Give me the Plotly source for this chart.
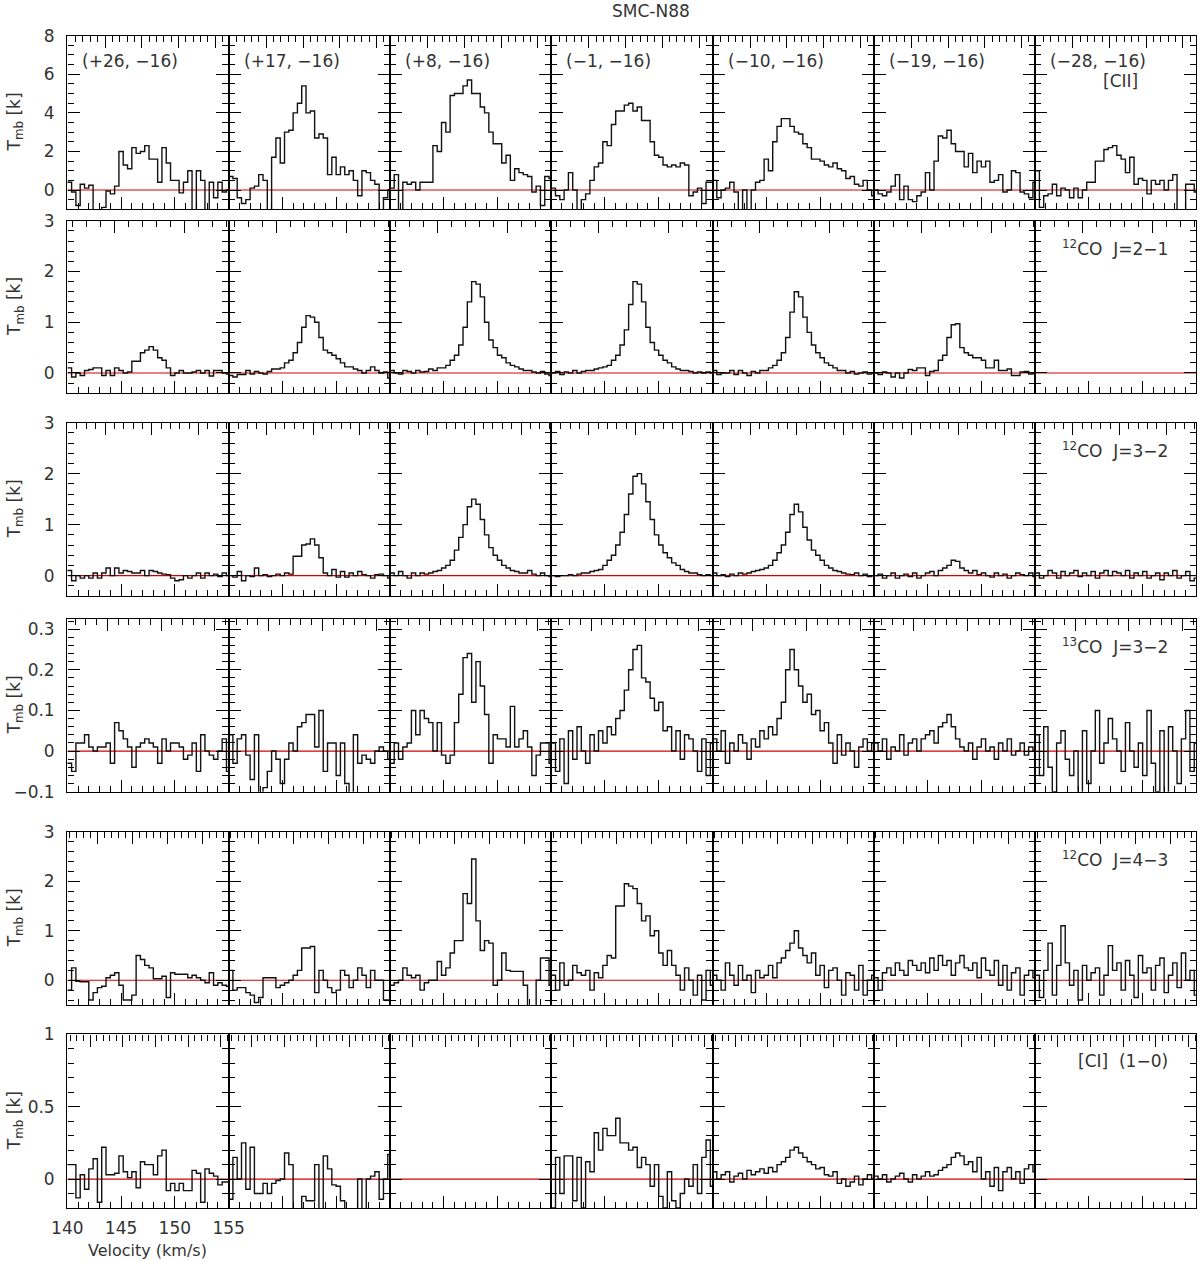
import plotly.graph_objects as go

# ---------------- data ----------------
V_MIN, V_MAX = 140.0, 155.0
CHAN_W = 0.4
X_TICK0, X_DTICK, X_MINOR = 140, 5, 1

OFFSETS = ["(+26, −16)", "(+17, −16)", "(+8, −16)", "(−1, −16)",
           "(−10, −16)", "(−19, −16)", "(−28, −16)"]
LINES = ["[CII]", "<sup>12</sup>CO  J=2−1", "<sup>12</sup>CO  J=3−2",
         "<sup>13</sup>CO  J=3−2", "<sup>12</sup>CO  J=4−3", "[CI]  (1−0)"]
Y_RANGES = [[-1, 8], [-0.4, 3], [-0.4, 3], [-0.1, 0.325], [-0.5, 3], [-0.2, 1]]
Y_MAJOR = [2, 1, 1, 0.1, 1, 0.5]
Y_MINOR = [0.5, 0.2, 0.2, 0.02, 0.2, 0.1]

cii_p26 = [0.4,-0.1,-0.8,0.3,0.1,0.25,-1.2,-1.2,-0.9,-0.05,-0.2,0.2,2.0,1.3,1.1,2.2,1.9,2.0,2.3,1.6,1.6,0.4,2.2,1.4,0.5,0.5,-0.15,0.4,1.0,-1.2,1.0,0.5,-1.2,0.4,-0.4,0.4,-0.1,0.0]
cii_p17 = [0.7,0.6,-0.4,-0.7,-0.5,0.1,0.2,0.8,0.5,-1.2,1.7,2.7,1.4,3.0,3.1,4.0,4.5,5.4,4.0,4.1,2.7,2.9,2.7,0.8,1.7,0.8,1.2,0.8,1.0,0.5,-0.3,1.0,0.9,0.5,0.3,-1.2,-0.4,0.0]
cii_p8 = [0.1,0.8,-1.2,0.4,0.3,0.4,0.0,0.4,0.4,0.4,2.3,2.0,3.5,3.0,4.9,5.0,5.0,5.4,5.7,5.0,5.0,4.3,4.0,3.0,2.4,2.4,1.4,1.8,0.5,1.1,0.9,0.8,0.7,-0.1,0.2,-0.8,0.7,0.6]
cii_m1 = [0.1,-0.3,-0.5,0.0,0.9,0.0,-1.2,-0.5,-0.2,0.5,1.2,1.4,2.5,2.3,3.4,4.1,4.1,4.4,4.5,4.1,4.3,3.6,3.6,2.5,1.8,1.7,1.3,1.2,1.3,1.2,1.4,1.3,-0.3,-0.1,0.1,-0.7,0.4,0.4]
cii_m10 = [0.5,-0.4,0.0,0.1,0.4,-0.1,-1.2,0.0,-1.2,0.0,0.4,0.5,1.6,1.0,2.5,3.3,3.7,3.7,3.3,3.0,2.9,2.4,2.2,1.6,1.6,1.5,1.3,1.2,1.4,1.1,1.0,0.6,0.7,0.3,0.2,0.5,0.0,-0.3]
cii_m19 = [0.0,-0.2,-0.3,-0.1,0.2,0.8,-0.5,0.2,-0.5,-0.6,-0.3,-0.1,0.9,0.0,1.5,2.8,2.7,3.1,2.4,2.0,2.0,1.2,1.9,0.9,1.5,1.2,1.5,0.4,0.5,0.8,-0.1,0.0,1.0,0.9,-0.1,-0.2,-0.4,0.4]
cii_m28 = [1.0,-0.9,-0.3,-0.2,0.3,-0.3,0.1,0.0,-0.4,0.1,-0.4,0.0,0.4,0.4,1.5,1.5,2.1,2.2,2.3,1.8,1.6,0.9,1.7,0.3,0.6,0.5,-0.2,0.5,0.3,0.5,0.0,0.5,0.8,-1.2,-1.2,0.3,0.3,-0.1]

co21_p26 = [0.1,-0.08,0.0,-0.05,0.05,0.07,0.1,0.1,-0.05,0.05,-0.05,0.1,0.05,0.0,0.02,0.23,0.23,0.4,0.45,0.52,0.45,0.3,0.25,0.1,-0.05,0.0,0.05,0.0,0.0,0.02,0.05,0.0,0.05,-0.06,0.05,0.05,0.0,-0.02]
co21_p17 = [-0.05,-0.08,-0.03,-0.03,0.05,-0.02,0.03,0.0,-0.02,0.03,0.08,0.08,0.1,0.2,0.25,0.4,0.6,0.9,1.13,1.1,1.0,0.7,0.45,0.4,0.35,0.28,0.2,0.12,0.12,0.08,0.05,0.0,0.05,0.12,0.05,0.0,0.02,-0.1]
co21_p8 = [0.05,0.0,-0.02,0.05,0.03,0.0,0.05,0.02,0.03,0.08,0.05,0.1,0.1,0.15,0.25,0.35,0.55,0.9,1.4,1.8,1.75,1.5,1.0,0.65,0.5,0.35,0.3,0.2,0.15,0.12,0.08,0.05,0.05,0.02,0.0,0.03,-0.02,-0.05]
co21_m1 = [0.0,0.03,-0.03,0.02,0.0,0.05,0.0,0.03,0.05,0.05,0.08,0.1,0.12,0.15,0.25,0.35,0.55,0.85,1.35,1.8,1.75,1.4,0.9,0.6,0.45,0.35,0.25,0.2,0.12,0.08,0.05,0.05,0.03,0.0,0.02,0.0,0.02,0.0]
co21_m10 = [0.05,-0.03,0.0,0.0,0.05,-0.03,0.05,0.0,-0.05,0.03,0.0,0.05,0.05,0.1,0.15,0.25,0.4,0.7,1.2,1.6,1.5,1.1,0.8,0.55,0.4,0.3,0.2,0.15,0.1,0.05,0.05,0.0,0.03,-0.02,0.0,0.02,-0.02,0.0]
co21_m19 = [0.0,-0.03,0.02,0.0,-0.08,0.0,-0.1,0.0,0.07,0.05,0.1,0.1,-0.05,0.03,0.05,0.25,0.35,0.7,0.95,0.97,0.5,0.4,0.35,0.3,0.3,0.25,0.1,0.1,0.25,0.05,0.05,0.08,-0.05,-0.05,0.02,0.03,-0.02,0.0]
co21_m28 = None

co32_p26 = [0.1,-0.1,0.0,-0.05,0.0,-0.05,0.05,-0.05,0.05,0.15,0.0,0.15,0.05,0.1,0.08,0.05,0.05,0.1,0.0,0.1,0.08,0.05,0.03,0.02,-0.05,-0.1,-0.08,0.0,-0.05,0.0,0.05,-0.05,0.05,0.0,0.03,-0.02,0.05,0.0]
co32_p17 = [0.0,-0.03,0.08,-0.1,0.0,-0.02,0.15,0.0,0.02,-0.02,0.0,0.03,0.0,0.05,0.03,0.38,0.38,0.6,0.62,0.72,0.6,0.35,0.05,0.0,0.12,-0.03,0.08,-0.03,0.05,0.0,0.08,0.02,0.0,-0.05,0.02,0.03,0.0,-0.05]
co32_p8 = [0.05,0.0,0.08,0.0,-0.05,0.05,0.0,0.05,0.03,0.05,0.08,0.1,0.15,0.2,0.3,0.5,0.75,1.0,1.35,1.5,1.4,1.1,0.8,0.55,0.4,0.3,0.2,0.15,0.1,0.08,0.05,0.05,0.1,0.03,0.0,0.05,0.0,-0.02]
co32_m1 = [0.0,-0.02,0.0,0.0,0.02,0.0,0.03,0.05,0.05,0.08,0.1,0.12,0.2,0.3,0.4,0.6,0.85,1.2,1.6,1.95,2.0,1.8,1.45,1.1,0.8,0.6,0.45,0.35,0.25,0.2,0.12,0.08,0.05,0.05,0.02,0.0,0.02,0.0]
co32_m10 = [0.05,0.0,0.02,-0.02,0.03,0.0,0.05,0.03,0.05,0.08,0.1,0.12,0.15,0.2,0.3,0.45,0.6,0.85,1.2,1.4,1.25,0.95,0.7,0.5,0.4,0.3,0.2,0.15,0.1,0.08,0.05,0.03,0.02,0.05,0.0,0.03,-0.02,0.0]
co32_m19 = [0.0,0.03,-0.05,0.0,0.05,-0.05,0.0,0.03,-0.02,0.05,-0.05,0.0,0.05,0.08,0.0,0.1,0.15,0.2,0.3,0.28,0.15,0.1,0.05,0.1,0.02,0.05,0.0,-0.03,0.05,0.0,0.03,-0.05,0.0,0.05,0.02,0.0,0.05,-0.02]
co32_m28 = [0.05,-0.05,0.0,0.1,0.05,-0.05,0.08,0.0,0.05,0.1,-0.02,0.05,0.0,0.08,-0.05,0.05,0.1,0.0,0.08,0.05,0.0,0.1,-0.05,0.05,0.0,0.08,-0.05,0.0,0.05,-0.08,0.05,0.0,0.1,-0.05,0.0,0.08,-0.1,-0.05]

c13o32_p26 = [-0.03,-0.05,0.02,0.02,0.04,0.01,0.0,0.01,0.01,0.02,-0.03,0.07,0.05,0.03,0.01,-0.04,0.01,0.02,0.03,0.02,0.01,-0.03,0.03,0.0,0.02,0.02,0.01,-0.02,-0.01,0.02,-0.05,0.04,0.0,-0.01,-0.02,0.0,0.03,-0.05]
c13o32_p17 = [0.04,-0.03,0.03,0.04,-0.01,-0.07,0.04,-0.12,-0.09,-0.05,0.0,-0.02,-0.08,-0.02,0.02,0.0,0.06,0.07,0.09,0.09,0.01,0.1,-0.05,0.02,0.02,-0.06,0.02,-0.08,-0.12,0.04,-0.03,-0.01,-0.02,-0.03,0.0,0.01,0.0,-0.02]
c13o32_p8 = [-0.03,0.02,-0.02,0.01,0.02,0.1,0.04,0.1,0.08,0.07,0.0,0.07,-0.01,-0.03,-0.01,0.07,0.14,0.23,0.24,0.12,0.22,0.16,0.09,-0.03,0.04,0.03,0.03,0.01,0.11,0.01,0.03,0.05,0.01,-0.06,-0.01,0.02,0.02,-0.03]
c13o32_m1 = [0.02,-0.05,0.03,-0.08,0.05,-0.02,0.06,0.0,-0.03,0.04,0.0,0.05,0.02,0.06,0.04,0.08,0.1,0.15,0.2,0.25,0.26,0.18,0.17,0.13,0.1,0.12,0.05,0.06,0.0,0.05,-0.02,0.04,0.03,0.0,-0.05,0.03,-0.06,0.02]
c13o32_m10 = [0.03,0.0,0.05,-0.03,0.02,0.0,0.04,0.02,-0.02,0.03,0.01,0.05,0.03,0.06,0.04,0.08,0.12,0.2,0.25,0.2,0.16,0.12,0.14,0.09,0.1,0.05,0.07,0.02,-0.03,0.04,-0.01,0.02,0.0,-0.04,0.01,0.03,0.0,0.02]
c13o32_m19 = [0.02,0.0,0.03,-0.02,0.01,0.0,0.04,-0.01,0.02,0.03,0.0,0.03,0.04,0.05,0.02,0.06,0.07,0.09,0.06,0.03,0.01,0.0,0.02,-0.02,0.01,0.03,0.0,0.01,-0.02,0.02,0.0,0.03,-0.01,0.0,0.02,-0.01,0.01,0.0]
c13o32_m28 = [0.04,-0.06,0.06,-0.04,-0.1,0.02,0.05,-0.02,-0.06,0.0,-0.12,0.05,-0.08,0.0,0.1,-0.03,0.02,0.08,0.03,0.0,-0.05,0.07,0.0,-0.04,0.02,-0.06,0.1,-0.03,-0.1,0.05,-0.12,0.06,0.0,-0.08,0.03,0.1,-0.05,0.02]

co43_p26 = [-0.2,0.25,-0.02,-0.03,-0.03,-0.4,-0.25,-0.15,-0.12,0.05,0.1,0.15,-0.1,-0.4,-0.4,-0.3,0.5,0.42,0.3,0.25,0.03,0.03,0.08,-0.35,0.15,0.12,0.12,0.12,0.05,0.1,0.05,0.0,-0.05,0.15,-0.1,-0.05,-0.1,-0.12]
co43_p17 = [0.2,-0.2,-0.15,-0.15,-0.25,-0.3,-0.45,-0.35,0.05,0.05,0.05,-0.15,-0.1,-0.05,0.0,0.1,0.2,0.65,0.65,0.68,-0.25,0.2,0.0,-0.15,-0.25,-0.2,0.2,0.1,-0.15,0.0,0.25,0.1,-0.15,0.2,0.0,0.0,-0.4,-0.4]
co43_p8 = [-0.1,-0.05,0.0,0.25,0.1,0.05,0.1,-0.2,-0.05,0.0,0.0,0.38,0.1,0.25,0.55,0.8,0.8,1.75,1.55,2.45,1.2,0.6,0.8,0.75,-0.1,0.0,0.55,0.2,0.18,0.18,0.18,-0.1,-0.6,-0.6,0.0,0.45,0.45,-0.1]
co43_m1 = [0.1,-0.2,0.35,-0.1,0.0,0.3,0.15,0.1,0.2,-0.2,0.15,0.05,0.3,0.5,0.45,1.5,1.5,1.95,1.9,1.85,1.55,1.2,1.3,0.9,1.0,0.55,0.3,0.6,0.3,0.1,-0.2,0.25,0.0,-0.3,0.1,-0.4,0.2,-0.1]
co43_m10 = [0.1,0.0,-0.2,0.35,0.1,-0.1,0.3,0.0,0.1,-0.25,0.2,0.05,0.1,0.3,0.05,0.35,0.45,0.6,0.75,1.0,0.65,0.5,0.35,0.55,0.1,0.3,-0.15,0.2,0.25,0.0,-0.3,0.15,0.1,-0.2,0.3,-0.3,0.0,0.1]
co43_m19 = [0.05,-0.2,0.15,0.25,0.1,0.35,0.2,0.1,0.4,0.3,0.2,0.35,0.15,0.45,0.2,0.5,0.3,0.4,0.1,0.35,0.5,0.25,0.2,0.35,0.05,0.45,0.2,0.1,0.4,-0.1,0.3,-0.2,0.15,0.25,-0.3,0.1,0.2,0.05]
co43_m28 = [0.1,-0.35,0.2,0.75,-0.3,0.3,1.1,0.35,-0.1,0.2,-0.4,0.3,0.0,0.15,0.25,-0.3,0.1,0.7,0.2,0.35,-0.2,0.4,0.1,-0.35,0.5,0.15,0.25,-0.2,0.3,0.45,-0.25,0.1,0.35,-0.15,0.55,0.0,0.2,-0.3]

ci_p26 = [0.1,0.1,-0.13,0.03,-0.07,0.07,0.14,-0.16,0.22,0.03,0.03,0.04,0.16,0.05,0.01,0.05,-0.06,0.12,0.1,0.1,0.03,0.16,0.2,-0.08,-0.03,-0.08,-0.03,-0.08,-0.08,0.06,0.04,-0.16,0.07,0.04,0.02,-0.04,-0.02,-0.02]
ci_p17 = [-0.14,0.15,0.0,0.25,-0.07,0.22,-0.1,-0.1,-0.03,-0.1,-0.03,-0.01,0.0,0.18,0.1,-0.25,-0.25,-0.12,-0.15,-0.15,0.1,-0.25,0.16,0.07,-0.04,-0.05,-0.15,-0.25,-0.25,-0.25,0.0,-0.25,0.0,0.02,0.05,-0.14,0.0,0.17]
ci_p8 = None
ci_m1 = [-0.2,0.15,-0.1,0.16,0.16,-0.15,0.15,-0.2,0.12,0.05,0.32,0.2,0.35,0.3,0.3,0.42,0.25,0.25,0.2,0.22,0.08,0.15,0.1,-0.05,0.1,-0.12,-0.2,0.05,-0.15,-0.2,-0.1,0.0,-0.05,0.1,-0.1,0.15,0.27,-0.05]
ci_m10 = [0.05,0.0,0.03,0.05,-0.02,0.02,0.04,0.0,0.06,0.03,0.05,0.07,0.04,0.08,0.05,0.1,0.12,0.15,0.2,0.22,0.18,0.15,0.12,0.1,0.07,0.08,0.03,0.02,0.05,-0.03,0.0,-0.05,-0.02,0.02,-0.04,0.0,0.03,0.0]
ci_m19 = [0.02,0.0,0.03,-0.02,0.0,0.02,0.04,0.0,-0.02,0.03,0.0,0.02,0.05,0.02,0.03,0.06,0.08,0.1,0.15,0.18,0.16,0.1,0.12,0.05,0.15,0.0,0.05,-0.05,0.08,-0.08,0.05,0.08,0.0,0.05,-0.03,0.07,0.1,0.05]
ci_m28 = None

ROWS = [
    [cii_p26, cii_p17, cii_p8, cii_m1, cii_m10, cii_m19, cii_m28],
    [co21_p26, co21_p17, co21_p8, co21_m1, co21_m10, co21_m19, co21_m28],
    [co32_p26, co32_p17, co32_p8, co32_m1, co32_m10, co32_m19, co32_m28],
    [c13o32_p26, c13o32_p17, c13o32_p8, c13o32_m1, c13o32_m10, c13o32_m19, c13o32_m28],
    [co43_p26, co43_p17, co43_p8, co43_m1, co43_m10, co43_m19, co43_m28],
    [ci_p26, ci_p17, ci_p8, ci_m1, ci_m10, ci_m19, ci_m28],
]

# ---------------- geometry / style (pixels) ----------------
W, H = 1200, 1261
LEFT = 67.3
COL_W = 161.3
ROW_TOP = [35.7, 220.7, 422.7, 619.0, 831.7, 1034.3]
ROW_BOT = [209.3, 393.3, 596.0, 791.7, 1005.0, 1208.0]
TOP_SPACING = [36.7, 70.0, 46.7, 53.8, 35.0, 32.7]   # px between long top ticks
TOP_PHASE = [37.7, 47.4, 37.7, 40.0, 30.0, 22.7]     # px from panel left to first long tick

FONT = "DejaVu Sans"
TXT = "#333333"
TICKFONT = dict(family=FONT, size=17, color=TXT)


def px_x(p):
    return p / W


def px_y(p):
    return 1 - p / H


def ref(prefix, i):
    return prefix if i == 1 else f"{prefix}{i}"


def key(prefix, i):
    return f"{prefix}axis" if i == 1 else f"{prefix}axis{i}"


fig = go.Figure()
layout = {}
annotations = []
NP = 42

for r in range(6):
    for c in range(7):
        i = r * 7 + c + 1
        xr, yr = ref("x", i), ref("y", i)
        xt = ref("x", NP + i)
        x0 = LEFT + c * COL_W
        x1 = x0 + COL_W
        dom_x = [px_x(x0), px_x(x1)]
        dom_y = [px_y(ROW_BOT[r]), px_y(ROW_TOP[r])]

        tickcommon = dict(ticks="inside", tickcolor="black", tickwidth=1.3,
                          ticklen=12, showgrid=False, zeroline=False,
                          showline=True, linecolor="black", linewidth=1.4,
                          tickfont=TICKFONT, automargin=False)

        layout[key("x", i)] = dict(
            domain=dom_x, range=[V_MIN, V_MAX], anchor=yr,
            tickmode="linear", tick0=X_TICK0, dtick=X_DTICK,
            minor=dict(ticks="inside", ticklen=6, tickwidth=1.3,
                       tickcolor="black", dtick=X_MINOR, tick0=X_TICK0),
            showticklabels=(r == 5 and c == 0), ticklabelstandoff=4,
            **tickcommon)

        sp, ph = TOP_SPACING[r], TOP_PHASE[r]
        layout[key("x", NP + i)] = dict(
            overlaying=xr, side="top", anchor=yr,
            range=[-ph / sp, (COL_W - ph) / sp],
            tickmode="linear", tick0=0, dtick=1,
            minor=dict(ticks="inside", ticklen=6, tickwidth=1.3,
                       tickcolor="black", dtick=0.2, tick0=0),
            showticklabels=False, **tickcommon)

        layout[key("y", i)] = dict(
            domain=dom_y, range=Y_RANGES[r], anchor=xr, mirror="ticks",
            tickmode="linear", tick0=0, dtick=Y_MAJOR[r],
            minor=dict(ticks="inside", ticklen=6, tickwidth=1.3,
                       tickcolor="black", dtick=Y_MINOR[r], tick0=0),
            showticklabels=(c == 0), ticklabelstandoff=8,
            **tickcommon)

        # baseline
        fig.add_trace(go.Scatter(x=[V_MIN, V_MAX], y=[0, 0], mode="lines",
                                 line=dict(color="#d40000", width=1.2),
                                 xaxis=xr, yaxis=yr, showlegend=False,
                                 hoverinfo="skip"))
        # top (frequency) axis holder
        fig.add_trace(go.Scatter(x=[], y=[], mode="lines", xaxis=xt, yaxis=yr,
                                 showlegend=False, hoverinfo="skip"))

        spec = ROWS[r][c]
        if spec is not None:
            edges = [V_MIN + CHAN_W * k for k in range(len(spec) + 1)]
            vals = list(spec) + [spec[-1]]
            fig.add_trace(go.Scatter(x=edges, y=vals, mode="lines",
                                     line=dict(color="#111111", width=1.4, shape="hv"),
                                     xaxis=xr, yaxis=yr, showlegend=False,
                                     hoverinfo="skip"))

        if r == 0:
            annotations.append(dict(
                text=OFFSETS[c], x=px_x(x0 + 13), y=px_y(ROW_TOP[0] + 25),
                xref="paper", yref="paper", xanchor="left", yanchor="middle",
                showarrow=False, font=dict(family=FONT, size=17, color=TXT)))

    # row y label
    annotations.append(dict(
        text="T<sub>mb</sub> [k]", x=px_x(15),
        y=px_y((ROW_TOP[r] + ROW_BOT[r]) / 2), xref="paper", yref="paper",
        xanchor="center", yanchor="middle", textangle=-90, showarrow=False,
        font=dict(family=FONT, size=17, color=TXT)))
    # transition label
    if r == 0:
        lx, ly = 1140, ROW_TOP[0] + 45
    else:
        lx, ly = 1170, ROW_TOP[r] + 27
    annotations.append(dict(
        text=LINES[r], x=px_x(lx), y=px_y(ly), xref="paper", yref="paper",
        xanchor="right", yanchor="middle", showarrow=False,
        font=dict(family=FONT, size=17, color=TXT)))

annotations.append(dict(text="SMC-N88", x=px_x(651), y=px_y(11), xref="paper",
                        yref="paper", xanchor="center", yanchor="middle",
                        showarrow=False, font=dict(family=FONT, size=17, color=TXT)))
annotations.append(dict(text="Velocity (km/s)", x=px_x(147), y=px_y(1250),
                        xref="paper", yref="paper", xanchor="center",
                        yanchor="middle", showarrow=False,
                        font=dict(family=FONT, size=16, color=TXT)))

fig.update_layout(**layout)
fig.update_layout(width=W, height=H, margin=dict(l=0, r=0, t=0, b=0, pad=0),
                  paper_bgcolor="white", plot_bgcolor="white",
                  showlegend=False, annotations=annotations, hovermode=False)

fig.write_html("out.html", post_script="document.body.style.margin='0px';",
               config={"displayModeBar": False})
